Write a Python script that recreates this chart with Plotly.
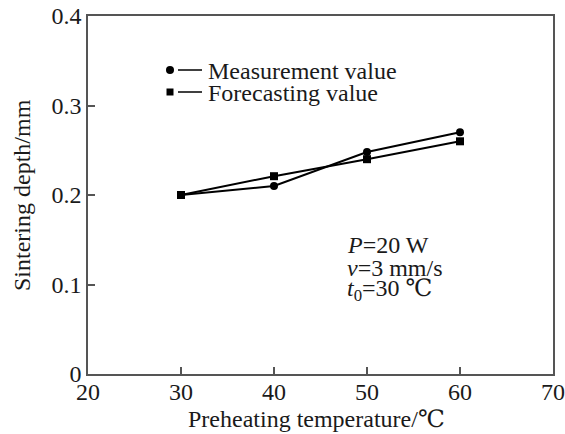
import plotly.graph_objects as go

temps = [30, 40, 50, 60]
measured = [0.200, 0.210, 0.248, 0.270]
forecast = [0.200, 0.221, 0.240, 0.260]
x_ticks = [20, 30, 40, 50, 60, 70]
y_ticks = [0, 0.1, 0.2, 0.3, 0.4]
y_tick_text = ["0", "0.1", "0.2", "0.3", "0.4"]

FONT = "Liberation Serif, DejaVu Serif, serif"
FS = 24
AX = "#555555"
TXT = "#1a1a1a"

L, R, T, B = 88, 12, 16, 60
W, H = 565, 434
PW, PH = W - L - R, H - T - B


def px(xp):
    return (xp - L) / PW


def py(yp):
    return (H - B - yp) / PH


fig = go.Figure()
fig.add_trace(go.Scatter(x=temps, y=measured, mode="lines+markers", name="Measurement value",
                         line=dict(color="black", width=2),
                         marker=dict(symbol="circle", size=8, color="black")))
fig.add_trace(go.Scatter(x=temps, y=forecast, mode="lines+markers", name="Forecasting value",
                         line=dict(color="black", width=2),
                         marker=dict(symbol="square", size=8, color="black")))

# custom legend (marker, then short line, then text)
leg = [(70, "circle", "Measurement value"), (92, "square", "Forecasting value")]
for yy, sym, label in leg:
    fig.add_trace(go.Scatter(x=[px(170)], y=[py(yy)], xaxis="x2", yaxis="y2", mode="markers",
                             showlegend=False, hoverinfo="skip",
                             marker=dict(symbol=sym, size=8 if sym == "circle" else 7, color="black")))
    fig.add_shape(type="line", xref="paper", yref="paper", x0=px(178), x1=px(202), y0=py(yy), y1=py(yy),
                  line=dict(color="black", width=1.5))
    fig.add_annotation(xref="paper", yref="paper", x=px(206), y=py(yy + 1), text=label, showarrow=False,
                       xanchor="left", yanchor="middle", font=dict(family=FONT, size=FS, color=TXT))

cond = [(245, "<i>P</i>=20 W"), (268, "<i>v</i>=3 mm/s"), (290, "<i>t</i><sub>0</sub>=30 ℃")]
for yy, t in cond:
    fig.add_annotation(xref="paper", yref="paper", x=px(345), y=py(yy), text=t, showarrow=False,
                       xanchor="left", yanchor="middle", align="left",
                       font=dict(family=FONT, size=FS, color=TXT))

# axis titles
fig.add_annotation(xref="paper", yref="paper", x=px(316), y=py(419), text="Preheating temperature/℃",
                   showarrow=False, xanchor="center", yanchor="middle",
                   font=dict(family=FONT, size=FS, color=TXT))
fig.add_annotation(xref="paper", yref="paper", x=px(22), y=py(195), text="Sintering depth/mm",
                   showarrow=False, xanchor="center", yanchor="middle", textangle=-90,
                   font=dict(family=FONT, size=FS, color=TXT))

fig.update_layout(
    width=W, height=H,
    margin=dict(l=L, r=R, t=T, b=B, autoexpand=False),
    paper_bgcolor="white", plot_bgcolor="white",
    showlegend=False,
    font=dict(family=FONT, size=FS, color=TXT),
    xaxis2=dict(range=[0, 1], overlaying="x", visible=False, fixedrange=True),
    yaxis2=dict(range=[0, 1], overlaying="y", visible=False, fixedrange=True),
    xaxis=dict(range=[20, 70], tickvals=x_ticks, ticks="inside", ticklen=7, tickwidth=1.5, tickcolor=AX,
               showline=True, linecolor=AX, linewidth=1.5, mirror=True, showgrid=False, zeroline=False,
               automargin=False, ticklabelstandoff=-5, tickfont=dict(size=FS, color=TXT)),
    yaxis=dict(range=[0, 0.4], tickvals=y_ticks, ticktext=y_tick_text, ticks="inside", ticklen=7, tickwidth=1.5,
               tickcolor=AX, showline=True, linecolor=AX, linewidth=1.5, mirror=True, showgrid=False,
               zeroline=False, automargin=False, tickfont=dict(size=FS, color=TXT)),
)

fig.write_html("out.html")
